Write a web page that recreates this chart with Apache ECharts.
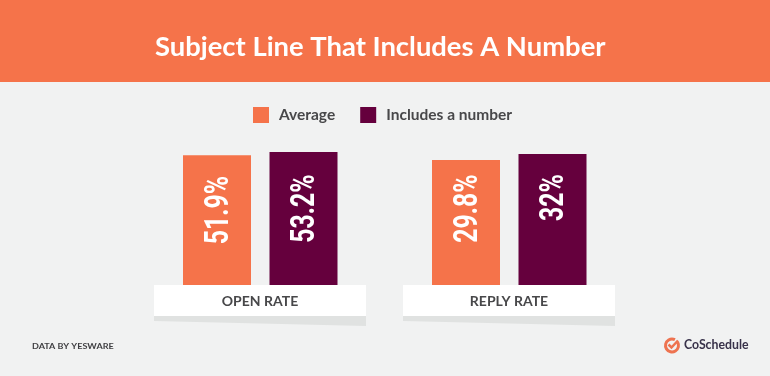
<!DOCTYPE html>
<html><head><meta charset="utf-8">
<style>html,body{margin:0;padding:0;background:#f1f2f2}#c{width:770px;height:376px}</style>
<script src="https://cdn.jsdelivr.net/npm/echarts@6/dist/echarts.min.js"></script>
</head><body><div id="c"></div>
<script>
const titleText = 'Subject Line That Includes A Number';
const seriesNames = ['Average', 'Includes a number'];
const groupLabels = ['OPEN RATE', 'REPLY RATE'];
const averageValues = [51.9, 29.8];
const numberValues = [53.2, 32];
const sourceText = 'DATA BY YESWARE';
const brandText = 'CoSchedule';

const ORANGE = '#f5734a', PLUM = '#65003d', BG = '#f1f2f2', INK = '#48484a', FONT = 'Lato';
const labelLift = [[10, 10], [14, 22]];   // px the value label sits above each bar's middle

function renderBar(params, api) {
  const cs = params.coordSys;
  const group = params.seriesIndex % 2 ? 1 : 0;
  const serie = params.seriesIndex >= 2 ? 1 : 0;
  const v = api.value(1);
  const p = api.coord([api.value(0), v]);
  const base = cs.y + cs.height;
  const w = 68;
  const cy = (p[1] + base) / 2 - labelLift[group][serie];
  return {
    type: 'group',
    children: [
      { type: 'rect', shape: { x: p[0] - w / 2, y: p[1], width: w, height: base - p[1] },
        style: { fill: api.visual('color') } },
      { type: 'text', x: p[0] + 2, y: cy, rotation: Math.PI / 2, scaleX: 0.73, scaleY: 1,
        style: { text: v + '%', fill: '#fff', font: '700 34px Roboto',
          align: 'center', verticalAlign: 'middle' } }
    ]
  };
}
const makeSeries = (name, color, axis, value, cat) => ({
  type: 'custom', name, coordinateSystem: 'cartesian2d', xAxisIndex: axis, yAxisIndex: axis,
  itemStyle: { color }, renderItem: renderBar, clip: false,
  data: [[cat, value]], z: 3
});

const panel = (left, label) => ([
  { type: 'polygon', z: 1, shape: { points: [[left, 316], [left + 212, 316], [left + 212, 326], [left, 321]] },
    style: { fill: '#e0e2e1' } },
  { type: 'rect', z: 2, shape: { x: left, y: 285, width: 212, height: 31 }, style: { fill: '#fff' } },
  { type: 'text', z: 4, x: left + 106, y: 301.5, scaleX: 1.12, originX: 0, style: { text: label, fill: INK,
      font: '700 12.5px ' + FONT, align: 'center', verticalAlign: 'middle' } }
]);

const option = {
  backgroundColor: BG,
  animation: false,
  title: { text: titleText, left: 155, top: 31,
    textStyle: { color: '#fff', fontFamily: FONT, fontWeight: 700, fontSize: 27.4, lineHeight: 32 }, padding: 0, z: 5 },
  legend: { left: 253, top: 107, itemWidth: 16, itemHeight: 16, itemGap: 25, icon: 'rect', data: seriesNames,
    selectedMode: false, padding: 0,
    textStyle: { color: INK, fontFamily: FONT, fontWeight: 700, fontSize: 15.5, padding: [3, 0, 0, 5] } },
  grid: [
    { left: 173.75, width: 173, top: 135, height: 150 },
    { left: 422.75, width: 173, top: 132.2, height: 152.8 }
  ],
  xAxis: [0, 1].map(i => ({ type: 'category', gridIndex: i, data: seriesNames, show: false })),
  yAxis: [
    { type: 'value', gridIndex: 0, min: 0, max: 60, show: false },
    { type: 'value', gridIndex: 1, min: -16, max: 40, show: false }
  ],
  series: [
    makeSeries(seriesNames[0], ORANGE, 0, averageValues[0], seriesNames[0]),
    makeSeries(seriesNames[0], ORANGE, 1, averageValues[1], seriesNames[0]),
    makeSeries(seriesNames[1], PLUM, 0, numberValues[0], seriesNames[1]),
    makeSeries(seriesNames[1], PLUM, 1, numberValues[1], seriesNames[1])
  ],
  graphic: [
    { type: 'rect', z: -1, silent: true, shape: { x: 0, y: 0, width: 770, height: 82 }, style: { fill: ORANGE } },
    ...panel(154, groupLabels[0]),
    ...panel(403, groupLabels[1]),
    { type: 'text', x: 32, y: 346, scaleX: 1.13, style: { text: sourceText, fill: '#3f3f42',
        font: '700 8px ' + FONT, verticalAlign: 'middle' } },
    { type: 'arc', shape: { cx: 672, cy: 345.5, r: 6.5, startAngle: -0.55, endAngle: -1.1, clockwise: true },
      style: { stroke: '#ee7350', lineWidth: 3, fill: null } },
    { type: 'polyline', shape: { points: [[668.5, 344.5], [671.5, 347.5], [678, 340.5]] },
      style: { stroke: '#ee7350', lineWidth: 2.5, fill: null } },
    { type: 'text', x: 684, y: 345.5, style: { text: brandText, fill: '#38324a',
        font: '700 12.3px ' + FONT, verticalAlign: 'middle' } }
  ]
};
echarts.init(document.getElementById('c'), null, { renderer: 'canvas' }).setOption(option);
</script></body></html>
